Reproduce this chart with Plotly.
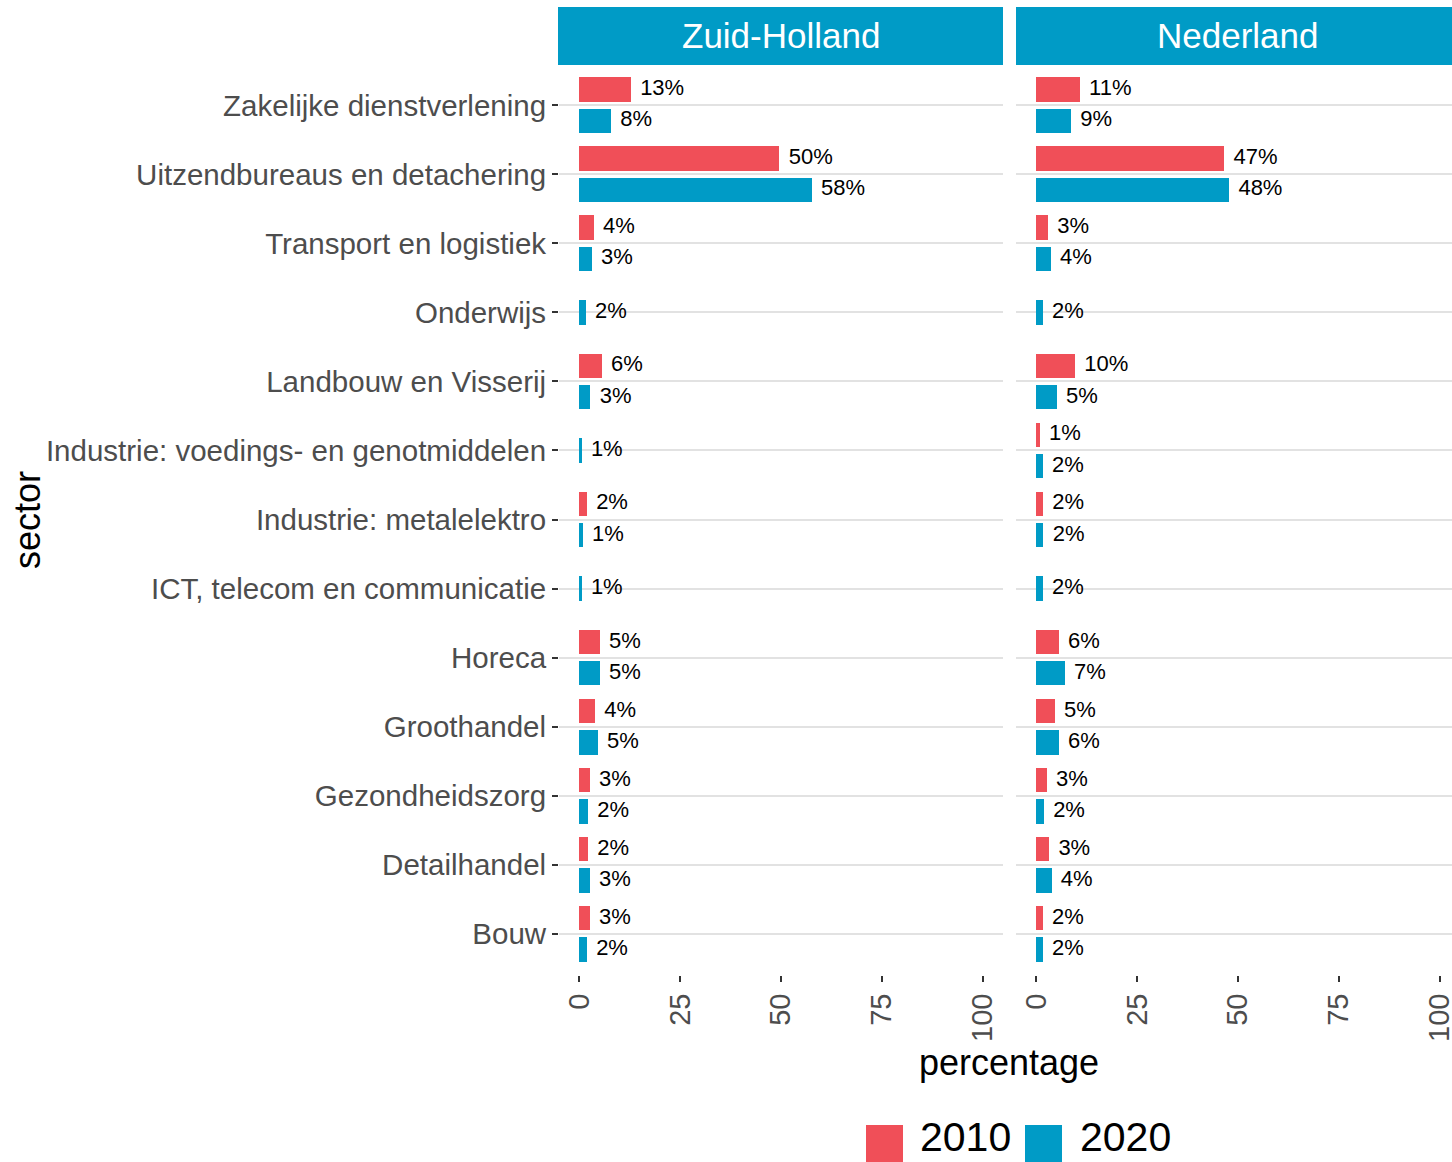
import plotly.graph_objects as go

VIEW_W, VIEW_H = 1452, 1162

sectors = [
    "Zakelijke dienstverlening",
    "Uitzendbureaus en detachering",
    "Transport en logistiek",
    "Onderwijs",
    "Landbouw en Visserij",
    "Industrie: voedings- en genotmiddelen",
    "Industrie: metalelektro",
    "ICT, telecom en communicatie",
    "Horeca",
    "Groothandel",
    "Gezondheidszorg",
    "Detailhandel",
    "Bouw",
]
regions = ["Zuid-Holland", "Nederland"]
years = ["2010", "2020"]

zh_2010 = [12.8, 49.6, 3.6, None, 5.6, None, 1.9, None, 5.1, 3.9, 2.6, 2.2, 2.6]
zh_2020 = [7.9, 57.6, 3.1, 1.6, 2.8, 0.6, 0.9, 0.6, 5.1, 4.6, 2.2, 2.6, 1.9]
nl_2010 = [10.8, 46.6, 2.9, None, 9.6, 0.9, 1.7, None, 5.6, 4.6, 2.6, 3.2, 1.6]
nl_2020 = [8.6, 47.8, 3.6, 1.6, 5.1, 1.6, 1.8, 1.6, 7.1, 5.6, 1.9, 3.8, 1.6]

x_ticks = [0, 25, 50, 75, 100]

colors = {"2010": "#F04F58", "2020": "#009BC6"}
strip_color = "#009BC6"
FONT = "Liberation Sans, Arial, sans-serif"

data = {
    "Zuid-Holland": {"2010": zh_2010, "2020": zh_2020},
    "Nederland": {"2010": nl_2010, "2020": nl_2020},
}

DODGE = 0.225
BAR_W = 0.36
NUDGE = 2.3

# reference pixel geometry (page has no body margin, see post_script)
left1, right1 = 559, 1003
left2 = 1016
ptop, pbot = 64, 975
px_per_unit = (right1 - left1) / 110.0
right2 = left2 + 110 * px_per_unit  # panel continues beyond the visible window
W = int(round(right2))
H = VIEW_H

fig = go.Figure()
axes = [("x", "y"), ("x2", "y2")]
for r, (xa, ya) in zip(regions, axes):
    for yr in years:
        other = "2020" if yr == "2010" else "2010"
        sign = -1 if yr == "2010" else 1
        xs, ys, txt, tx = [], [], [], []
        for i, v in enumerate(data[r][yr]):
            if v is None:
                continue
            both = data[r][other][i] is not None
            pos = i + sign * DODGE if both else i
            xs.append(v)
            ys.append(pos)
            txt.append(f"{int(v + 0.5)}%")
            tx.append(v + NUDGE)
        fig.add_trace(go.Bar(
            x=xs, y=ys, orientation="h", width=BAR_W,
            marker=dict(color=colors[yr], line=dict(width=0)),
            name=yr, showlegend=False, xaxis=xa, yaxis=ya,
        ))
        fig.add_trace(go.Scatter(
            x=tx, y=ys, mode="text", text=txt, textposition="middle right",
            textfont=dict(family=FONT, size=22, color="black"),
            showlegend=False, xaxis=xa, yaxis=ya, cliponaxis=False,
            hoverinfo="skip",
        ))


def px(x):
    return x / W


def py(y):
    return 1 - y / H


ydom = [py(pbot), py(ptop)]
n = len(sectors)

common_x = dict(
    tickmode="array", tickvals=x_ticks, ticktext=[str(t) for t in x_ticks],
    tickangle=-90, ticks="outside", ticklen=6, tickwidth=2, tickcolor="#333333",
    tickfont=dict(family=FONT, size=29, color="#4D4D4D"),
    ticklabeloverflow="allow",
    showgrid=False, zeroline=False, showline=False,
)
fig.update_layout(
    width=W, height=H,
    margin=dict(l=0, r=0, t=0, b=0),
    plot_bgcolor="white", paper_bgcolor="white",
    bargap=0,
    xaxis=dict(domain=[px(left1), px(right1)], range=[-5, 105], anchor="y", **common_x),
    xaxis2=dict(domain=[px(left2), 1.0], range=[-5, 105], anchor="y2", **common_x),
    yaxis=dict(
        domain=ydom, range=[n - 1 + 0.6, -0.6], anchor="x",
        tickmode="array", tickvals=list(range(n)), ticktext=sectors,
        ticks="outside", ticklen=6, tickwidth=2, tickcolor="#333333",
        tickfont=dict(family=FONT, size=29.5, color="#4D4D4D"),
        showgrid=True, gridcolor="#E2E2E2", gridwidth=2, zeroline=False, showline=False,
    ),
    yaxis2=dict(
        domain=ydom, range=[n - 1 + 0.6, -0.6], anchor="x2", matches="y",
        tickmode="array", tickvals=list(range(n)), showticklabels=False, ticks="",
        showgrid=True, gridcolor="#E2E2E2", gridwidth=2, zeroline=False, showline=False,
    ),
)

shapes = []
annotations = []
# facet strips
for r, (l, rr) in zip(regions, [(558, right1), (left2, W)]):
    shapes.append(dict(type="rect", xref="paper", yref="paper",
                       x0=px(l), x1=px(rr), y0=py(65), y1=py(7),
                       fillcolor=strip_color, line=dict(width=0), layer="below"))
for r, cx in zip(regions, [780.5, 1238]):
    annotations.append(dict(text=r, xref="paper", yref="paper",
                            x=px(cx), y=py(36), showarrow=False,
                            xanchor="center", yanchor="middle",
                            font=dict(family=FONT, size=35, color="white")))

# axis titles
annotations.append(dict(text="percentage", xref="paper", yref="paper",
                        x=px(1009), y=py(1062), showarrow=False,
                        xanchor="center", yanchor="middle",
                        font=dict(family=FONT, size=36, color="black")))
annotations.append(dict(text="sector", xref="paper", yref="paper",
                        x=px(27), y=py(520), showarrow=False, textangle=-90,
                        xanchor="center", yanchor="middle",
                        font=dict(family=FONT, size=36, color="black")))

# legend
leg_items = [("2010", 866, 918), ("2020", 1025, 1078)]
for yr, kx, tx in leg_items:
    shapes.append(dict(type="rect", xref="paper", yref="paper",
                       x0=px(kx), x1=px(kx + 37), y0=py(VIEW_H), y1=py(1125),
                       fillcolor=colors[yr], line=dict(width=0)))
    annotations.append(dict(text=yr, xref="paper", yref="paper",
                            x=px(tx), y=py(VIEW_H), showarrow=False,
                            xanchor="left", yanchor="bottom",
                            font=dict(family=FONT, size=41, color="black")))

fig.update_layout(shapes=shapes, annotations=annotations)

fig.write_html(
    "out.html",
    config={"displayModeBar": False},
    post_script="document.body.style.margin='0';document.body.style.overflow='hidden';",
)
